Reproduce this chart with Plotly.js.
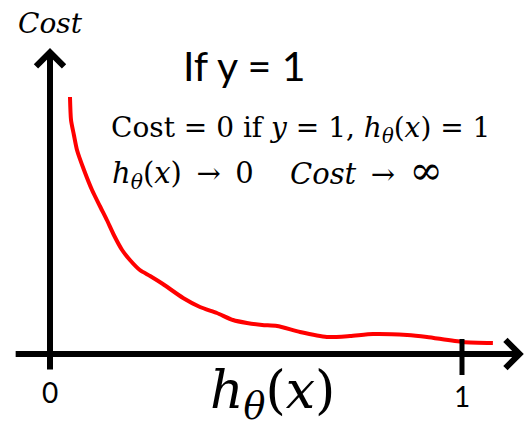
<!DOCTYPE html>
<html>
<head>
<meta charset="utf-8">
<script src="https://cdn.plot.ly/plotly-3.0.1.min.js"></script>
<style>html,body{margin:0;padding:0;background:#fff;}#chart{width:527px;height:427px;}</style>
</head>
<body>
<div id="chart"></div>
<script>
// Hypothesis value h(x) and hand-drawn cost curve (for y = 1)
var hx = [0.0485, 0.051, 0.058, 0.0655, 0.0825, 0.102, 0.121, 0.138, 0.155, 0.175, 0.194, 0.218, 0.243, 0.274, 0.323, 0.364, 0.405, 0.444, 0.478, 0.515, 0.551, 0.607, 0.672, 0.728, 0.784, 0.867, 0.915, 1.002, 1.075];
var cost = [5.14, 4.68, 4.38, 4.08, 3.68, 3.28, 2.96, 2.68, 2.38, 2.08, 1.88, 1.68, 1.56, 1.40, 1.12, 0.94, 0.82, 0.68, 0.62, 0.58, 0.56, 0.44, 0.34, 0.36, 0.40, 0.38, 0.34, 0.24, 0.22];
var tickVals = [0, 1];
var tickLabels = ['0', '1'];
var titleText = 'If y = 1';
var yAxisLabel = '<i>Cost</i>';
var xAxisLabel = '<i>h</i><sub><i>θ</i></sub>(<i>x</i>)';
var noteLine1 = 'Cost = 0 if <i>y</i> = 1, <i>h</i><sub><i>θ</i></sub>(<i>x</i>) = 1';
var noteLine2a = '<i>h</i><sub><i>θ</i></sub>(<i>x</i>)\u2002→\u20020';
var noteLine2b = '<i>Cost</i>\u2002→\u2002<span style="font-size:40px">∞</span>';

var xr = [-50/412, 477/412];
var yr = [-73/50, 354/50];

var trace = {
  x: hx, y: cost, type: 'scatter', mode: 'lines',
  line: {color: '#ff0000', width: 4, shape: 'spline', smoothing: 0.6},
  hoverinfo: 'skip', showlegend: false
};

var serif = 'DejaVu Serif, Liberation Serif, serif';
var sans = 'Lato, Open Sans, Liberation Sans, sans-serif';

function txt(px, py, text, family, size, xanchor) {
  return {x: px/527, y: 1 - py/427, xref: 'paper', yref: 'paper', text: text, showarrow: false,
    xanchor: xanchor || 'center', yanchor: 'middle', font: {family: family, size: size, color: '#000'}};
}

var annotations = [
  // x axis arrow
  {x: 1.150, y: 0, ax: -0.087, ay: 0, xref: 'x', yref: 'y', axref: 'x', ayref: 'y',
   showarrow: true, arrowhead: 4, arrowsize: 0.9, arrowwidth: 6, arrowcolor: '#000', text: '', standoff: 0, startstandoff: 0},
  // y axis arrow
  {x: 0, y: 6.12, ax: 0, ay: -0.34, xref: 'x', yref: 'y', axref: 'x', ayref: 'y',
   showarrow: true, arrowhead: 4, arrowsize: 0.9, arrowwidth: 6, arrowcolor: '#000', text: '', standoff: 0, startstandoff: 0},
  txt(244, 66, titleText, sans, 41),
  txt(50, 24, yAxisLabel, serif, 28),
  txt(272, 394, xAxisLabel, serif, 52),
  txt(109, 129, noteLine1, serif, 28, 'left'),
  txt(110, 175, noteLine2a, serif, 29, 'left'),
  txt(288, 170, noteLine2b, serif, 29, 'left')
];
var tickY = [392, 396];
tickVals.forEach(function (v, i) {
  annotations.push({x: v, y: (354 - tickY[i])/50, xref: 'x', yref: 'y', text: tickLabels[i], showarrow: false,
    xanchor: 'center', yanchor: 'middle', font: {family: sans, size: 28, color: '#000'}});
});

var shapes = [
  {type: 'line', xref: 'x', yref: 'y', x0: tickVals[1], x1: tickVals[1], y0: 0.3, y1: -0.42,
   line: {color: '#000', width: 5}}
];

var layout = {
  width: 527, height: 427,
  margin: {l: 0, r: 0, t: 0, b: 0, pad: 0},
  paper_bgcolor: '#fff', plot_bgcolor: '#fff',
  xaxis: {range: xr, visible: false, fixedrange: true},
  yaxis: {range: yr, visible: false, fixedrange: true},
  showlegend: false,
  annotations: annotations,
  shapes: shapes
};

Plotly.newPlot('chart', [trace], layout, {staticPlot: true, displayModeBar: false});
</script>
</body>
</html>
